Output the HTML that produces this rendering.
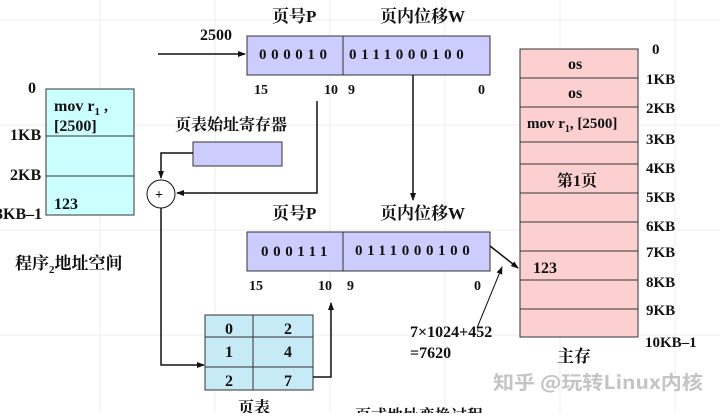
<!DOCTYPE html>
<html><head><meta charset="utf-8"><style>
body{margin:0;width:720px;height:413px;overflow:hidden;background:#fff;}
text{font-family:"Liberation Serif","Noto Serif CJK SC",serif;font-weight:bold;fill:#111;}
</style></head><body>
<svg width="720" height="413" xmlns="http://www.w3.org/2000/svg">
<defs><marker id="a" markerWidth="8" markerHeight="8" refX="7" refY="4" orient="auto" markerUnits="userSpaceOnUse"><path d="M0,1 L8,4 L0,7z" fill="#111"/></marker></defs>
<g stroke="#eee" stroke-width="1">
<line x1="0" y1="20" x2="720" y2="20"/><line x1="0" y1="125" x2="720" y2="125"/><line x1="0" y1="230" x2="720" y2="230"/><line x1="0" y1="335" x2="720" y2="335"/>
<line x1="100" y1="0" x2="100" y2="413"/><line x1="215" y1="0" x2="215" y2="413"/><line x1="330" y1="0" x2="330" y2="413"/><line x1="445" y1="0" x2="445" y2="413"/><line x1="560" y1="0" x2="560" y2="413"/><line x1="675" y1="0" x2="675" y2="413"/>
</g>
<!-- program space -->
<rect x="46" y="89" width="88" height="126" fill="#ccffff" stroke="#333"/>
<line x1="46" y1="136" x2="134" y2="136" stroke="#333"/><line x1="46" y1="176" x2="134" y2="176" stroke="#333"/>
<text x="54" y="111" font-size="16">mov  r<tspan font-size="11" dy="4">1</tspan><tspan dy="-4"> ,</tspan></text>
<text x="54" y="131" font-size="16">[2500]</text>
<text x="54" y="209" font-size="16">123</text>
<text x="28" y="93" font-size="16">0</text>
<text x="10" y="140" font-size="16">1KB</text>
<text x="10" y="180" font-size="16">2KB</text>
<text x="-5" y="219" font-size="16">3KB–1</text>
<text x="15" y="269" font-size="17" font-weight="normal">程序<tspan font-size="11" dy="4">2</tspan><tspan dy="-4">地址空间</tspan></text>
<!-- top address -->
<text x="200" y="40" font-size="16">2500</text>
<line x1="158" y1="54" x2="245" y2="54" stroke="#111" stroke-width="1.5" marker-end="url(#a)"/>
<text x="272" y="22" font-size="17">页号P</text>
<text x="380" y="22" font-size="17">页内位移W</text>
<rect x="247" y="36" width="243" height="39" fill="#ccccff" stroke="#333"/>
<line x1="343" y1="36" x2="343" y2="75" stroke="#333"/>
<text x="259" y="59" font-size="15" letter-spacing="4.6">000010</text>
<text x="349" y="59" font-size="15" letter-spacing="4.6">0111000100</text>
<text x="254" y="94" font-size="14">15</text><text x="324" y="94" font-size="14">10</text><text x="348" y="94" font-size="14">9</text><text x="478" y="94" font-size="14">0</text>
<!-- register -->
<text x="175" y="130" font-size="16" font-weight="normal">页表始址寄存器</text>
<rect x="193" y="142" width="89" height="24" fill="#ccccff" stroke="#333"/>
<polyline points="193,153 161,153 161,178" fill="none" stroke="#111" stroke-width="1.5" marker-end="url(#a)"/>
<circle cx="161" cy="194" r="14" fill="#fff" stroke="#111"/>
<text x="155" y="199" font-size="14" font-weight="normal">+</text>
<polyline points="317,101 317,193 177,193" fill="none" stroke="#111" stroke-width="1.5" marker-end="url(#a)"/>
<polyline points="161,208 161,365 204,365" fill="none" stroke="#111" stroke-width="1.5" marker-end="url(#a)"/>
<!-- page table -->
<rect x="205" y="315" width="108" height="75" fill="#c6eaf6" stroke="#333"/>
<line x1="253" y1="315" x2="253" y2="390" stroke="#333"/>
<line x1="205" y1="337" x2="313" y2="337" stroke="#333"/><line x1="205" y1="367" x2="313" y2="367" stroke="#333"/>
<text x="225" y="334" font-size="16">0</text><text x="284" y="334" font-size="16">2</text>
<text x="225" y="357" font-size="16">1</text><text x="284" y="357" font-size="16">4</text>
<text x="225" y="386" font-size="16">2</text><text x="284" y="386" font-size="16">7</text>
<text x="238" y="413" font-size="16" font-weight="normal">页表</text>
<polyline points="313,377 331,377 331,303" fill="none" stroke="#111" stroke-width="1.5" marker-end="url(#a)"/>
<!-- down arrow -->
<line x1="413" y1="75" x2="413" y2="200" stroke="#111" stroke-width="1.5" marker-end="url(#a)"/>
<!-- bottom address -->
<text x="272" y="219" font-size="17">页号P</text>
<text x="380" y="219" font-size="17">页内位移W</text>
<rect x="247" y="232" width="243" height="39" fill="#ccccff" stroke="#333"/>
<line x1="343" y1="232" x2="343" y2="271" stroke="#333"/>
<text x="261" y="256" font-size="15" letter-spacing="4.6">000111</text>
<text x="355" y="255" font-size="15" letter-spacing="4.6">0111000100</text>
<text x="249" y="290" font-size="14">15</text><text x="318" y="290" font-size="14">10</text><text x="347" y="290" font-size="14">9</text><text x="474" y="290" font-size="14">0</text>
<line x1="490" y1="246" x2="518" y2="268" stroke="#111" stroke-width="1.5" marker-end="url(#a)"/>
<line x1="477" y1="328" x2="502" y2="267" stroke="#111" stroke-width="1" marker-end="url(#a)"/>
<text x="410" y="337" font-size="16">7×1024+452</text>
<text x="410" y="358" font-size="16">=7620</text>
<!-- memory -->
<rect x="520" y="49" width="118" height="288" fill="#fcd0d0" stroke="#333"/>
<g stroke="#333"><line x1="520" y1="78" x2="638" y2="78"/><line x1="520" y1="107" x2="638" y2="107"/><line x1="520" y1="142" x2="638" y2="142"/><line x1="520" y1="164" x2="638" y2="164"/><line x1="520" y1="193" x2="638" y2="193"/><line x1="520" y1="222" x2="638" y2="222"/><line x1="520" y1="251" x2="638" y2="251"/><line x1="520" y1="280" x2="638" y2="280"/><line x1="520" y1="309" x2="638" y2="309"/></g>
<text x="568" y="69" font-size="16">os</text><text x="568" y="98" font-size="16">os</text>
<text x="527" y="128" font-size="15">mov r<tspan font-size="10" dy="4">1</tspan><tspan dy="-4">, [2500]</tspan></text>
<text x="557" y="186" font-size="16" font-weight="normal">第1页</text>
<text x="533" y="273" font-size="16">123</text>
<g font-size="15">
<text x="652" y="54">0</text><text x="646" y="84">1KB</text><text x="646" y="113">2KB</text><text x="646" y="144">3KB</text><text x="646" y="173">4KB</text><text x="646" y="202">5KB</text><text x="646" y="231">6KB</text><text x="646" y="257">7KB</text><text x="646" y="287">8KB</text><text x="646" y="315">9KB</text><text x="645" y="347">10KB–1</text>
</g>
<text x="557" y="362" font-size="17" font-weight="normal">主存</text>
<text x="355" y="421" font-size="16" font-weight="normal">页式地址变换过程</text>
<text x="493" y="389" font-size="19" font-weight="normal" textLength="210" lengthAdjust="spacingAndGlyphs" style="fill:#c4c4c4;font-family:'Noto Sans CJK SC',sans-serif">知乎 @玩转Linux内核</text>
</svg>
</body></html>
